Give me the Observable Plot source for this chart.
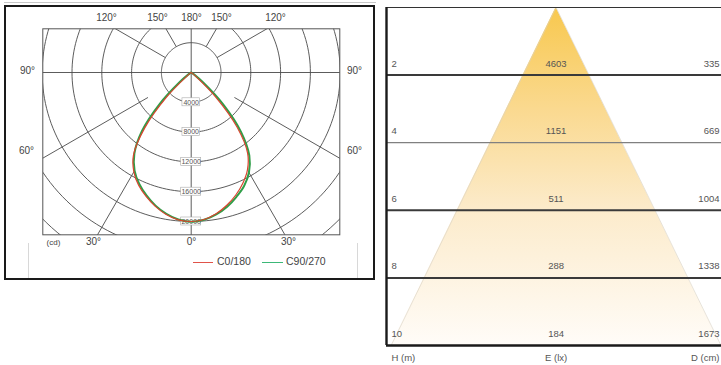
<!DOCTYPE html>
<html>
<head>
<meta charset="utf-8">
<script src="https://cdn.jsdelivr.net/npm/d3@7"></script>
<script src="https://cdn.jsdelivr.net/npm/@observablehq/plot@0.6"></script>
<style>
  body { margin: 0; background: #fff; font-family: "Liberation Sans", Arial, sans-serif; }
  #wrap { position: relative; width: 721px; height: 365px; overflow: hidden; background: #fff; }
  .abs { position: absolute; }
  .legtxt { font-size: 10.5px; color: #444; white-space: nowrap; }
</style>
</head>
<body>
<div id="wrap">
  <div class="abs" style="left:4px;top:2px;width:372px;height:1px;background:#c8c8c8"></div>
  <div class="abs" style="left:4px;top:5px;width:371px;height:275px;border:2px solid #1a1a1a;box-sizing:border-box"></div>
  <div class="abs" style="left:28px;top:243px;width:1px;height:35px;background:#d8d8d8"></div>
  <div class="abs" style="left:357px;top:243px;width:1px;height:35px;background:#d8d8d8"></div>
  <div id="left" class="abs" style="left:0;top:0"></div>
  <div id="right" class="abs" style="left:380px;top:0"></div>
  <div class="abs" style="left:193px;top:262px;width:20px;height:1px;background:#e0534a"></div>
  <div class="abs legtxt" style="left:217px;top:255px">C0/180</div>
  <div class="abs" style="left:262px;top:262px;width:21px;height:1px;background:#3cb878"></div>
  <div class="abs legtxt" style="left:286px;top:255px">C90/270</div>
</div>
<script>
// ---------- Polar luminous intensity data (cd), angle from nadir in degrees ----------
const angles = [-90,-85,-80,-75,-70,-65,-60,-55,-50,-45,-40,-35,-30,-25,-20,-15,-10,-5,0,5,10,15,20,25,30,35,40,45,50,55,60,65,70,75,80,85,90];
const c0_180  = [0,5,10,20,30,40,60,150,800,4800,9700,13500,15400,16700,17700,18600,19350,19850,20000,19800,19250,18450,17500,16400,15100,13200,9600,4700,800,150,60,40,30,20,10,5,0];
const c90_270 = [0,5,10,20,30,60,150,500,2000,6000,10300,13300,15200,16500,17550,18500,19250,19800,20050,19850,19350,18650,17750,16800,15500,13600,10400,6100,2100,500,150,60,30,20,10,5,0];
const seriesNames = ["C0/180", "C90/270"];
const seriesColors = ["#d9452f", "#2f9e48"];

// polar grid
const ringValues = [4000, 8000, 12000, 16000, 20000, 24000, 28000, 32000];
const ringLabelValues = [4000, 8000, 12000, 16000, 20000];
const spokeAngles = [0, 30, 60, 90, 120, 150, 180, -30, -60, -90, -120, -150];
const spokeInner  = [0, 15400, 6700, 0, 4000, 4000, 0, 15400, 6700, 0, 4000, 4000];

// angle labels
const angleLabelText = ["120°","150°","180°","150°","120°","90°","90°","60°","60°","30°","0°","30°"];

// ---------- Beam cone data ----------
const heights = [2, 4, 6, 8, 10];           // H (m)
const illuminance = [4603, 1151, 511, 288, 184]; // E (lx)
const diameters = [335, 669, 1004, 1338, 1673];  // D (cm)
const axisNames = ["H (m)", "E (lx)", "D (cm)"];

// ================= LEFT: polar diagram =================
const W1 = 380, H1 = 285;
const cx = 190.7, cy = 72, k = 29.8 / 4000; // px per cd
const box = {l: 42.3, r: 339.3, t: 28.3, b: 234.3};
const toX = px => (px - cx) / k, toY = py => (py - cy) / k;
const rad = d => d * Math.PI / 180;
const pol = (a, r) => ({x: r * Math.sin(rad(a)), y: r * Math.cos(rad(a))});

const curveRows = [];
[c0_180, c90_270].forEach((vals, s) => {
  angles.forEach((a, i) => curveRows.push({s: seriesNames[s], ...pol(a, vals[i])}));
});
const ringRows = [];
ringValues.forEach(r => { for (let a = 0; a <= 360; a += 2) ringRows.push({r, ...pol(a, r)}); });
const spokeRows = spokeAngles.map((a, i) => {
  const p1 = pol(a, spokeInner[i]), p2 = pol(a, 40000);
  return {x1: p1.x, y1: p1.y, x2: p2.x, y2: p2.y};
});
// label positions (layout)
const labelPx = [[106,17.3],[157,17.3],[191,17.3],[221,17.3],[275,17.3],[27,70.5],[354,70.5],[26,150.5],[354,150.5],[93,241.5],[191,241.5],[288,241.5]];
const angleLabels = angleLabelText.map((t, i) => ({t, x: toX(labelPx[i][0]), y: toY(labelPx[i][1])}));

const lblW = v => (String(v).length === 4 ? 17.5 : 20) / 2 / k;
const lblH = 4 / k;

const left = Plot.plot({
  width: W1, height: H1,
  marginLeft: box.l, marginRight: W1 - box.r, marginTop: box.t, marginBottom: H1 - box.b,
  x: {domain: [toX(box.l), toX(box.r)], range: [box.l, box.r], axis: null},
  y: {domain: [toY(box.t), toY(box.b)], range: [box.t, box.b], axis: null},
  color: {domain: seriesNames, range: seriesColors},
  style: {background: "transparent", fontFamily: "Liberation Sans, Arial, sans-serif", fontSize: "10px", overflow: "visible"},
  marks: [
    Plot.line(ringRows, {x: "x", y: "y", z: "r", stroke: "#4a4a4a", strokeWidth: 0.9}),
    Plot.link(spokeRows, {x1: "x1", y1: "y1", x2: "x2", y2: "y2", stroke: "#4a4a4a", strokeWidth: 0.9}),
    Plot.frame({stroke: "#555", strokeWidth: 1}),
    Plot.rect(ringLabelValues, {x1: d => -lblW(d), x2: d => lblW(d), y1: d => d - lblH, y2: d => d + lblH, fill: "white", stroke: "#aaa", strokeWidth: 0.6}),
    Plot.text(ringLabelValues, {x: 0, y: d => d, text: d => String(d), fontSize: 7, fill: "#555"}),
    Plot.line(curveRows.filter(d => d.s === "C90/270"), {x: "x", y: "y", stroke: "s", strokeWidth: 2, curve: "catmull-rom"}),
    Plot.line(curveRows.filter(d => d.s === "C0/180"), {x: "x", y: "y", stroke: "s", strokeWidth: 1.2, curve: "catmull-rom"}),
    Plot.text(angleLabels, {x: "x", y: "y", text: "t", fill: "#444", fontSize: 10}),
    Plot.text(["(cd)"], {x: toX(53), y: toY(241.5), text: d => d, fill: "#444", fontSize: 8})
  ]
});
// clip the polar grid (rings + spokes) to the frame
{
  const sel = d3.select(left);
  sel.insert("defs", ":first-child").append("clipPath").attr("id", "polarClip")
    .append("rect").attr("x", box.l).attr("y", box.t).attr("width", box.r - box.l).attr("height", box.b - box.t);
  const groups = sel.selectAll(":scope > g").nodes();
  groups.slice(0, 2).forEach(g => g.setAttribute("clip-path", "url(#polarClip)"));
}
document.getElementById("left").appendChild(left);

// ================= RIGHT: beam cone =================
const W2 = 341, H2 = 365;
const xmin = -8.6, xmax = 8.39;
const coneRows = [{H: 0, half: 0}, ...heights.map((h, i) => ({H: h, half: diameters[i] / 200}))];
const tableRows = heights.map((h, i) => ({H: h, E: illuminance[i], D: diameters[i]}));

const right = Plot.plot({
  width: W2, height: H2,
  marginLeft: 6, marginRight: 0, marginTop: 7, marginBottom: 20,
  x: {domain: [xmin, xmax], axis: null},
  y: {domain: [0, 10], range: [7, 345], axis: null},
  style: {background: "transparent", fontFamily: "Liberation Sans, Arial, sans-serif", fontSize: "9.5px", overflow: "visible"},
  marks: [
    Plot.areaX(coneRows, {y: "H", x1: d => -d.half, x2: d => d.half, fill: "url(#coneGrad)"}),
    Plot.line(coneRows, {x: d => -d.half, y: "H", stroke: "#d9d2c4", strokeWidth: 0.6}),
    Plot.line(coneRows, {x: d => d.half, y: "H", stroke: "#d9d2c4", strokeWidth: 0.6}),
    Plot.ruleY([0], {x1: xmin, x2: xmax, stroke: "#333", strokeWidth: 1}),
    Plot.ruleY(heights.filter(h => h !== 4 && h !== 10), {x1: xmin, x2: xmax, stroke: "#3a3a3a", strokeWidth: 2}),
    Plot.ruleY([4], {x1: xmin, x2: xmax, stroke: "#808080", strokeWidth: 1.2}),
    Plot.ruleY([10], {x1: xmin, x2: xmax, stroke: "#1a1a1a", strokeWidth: 2.6}),
    Plot.ruleX([xmin], {y1: 0, y2: 10, stroke: "#1a1a1a", strokeWidth: 2.4}),
    Plot.text(tableRows, {x: xmin, y: "H", dx: 5, dy: -11.5, text: d => String(d.H), textAnchor: "start", fill: "#555"}),
    Plot.text(tableRows, {x: 0, y: "H", dy: -11.5, text: d => String(d.E), fill: "#555"}),
    Plot.text(tableRows, {x: xmax, y: "H", dx: -2, dy: -11.5, text: d => String(d.D), textAnchor: "end", fill: "#555"}),
    Plot.text([axisNames[0]], {x: xmin, y: 10, dx: 5, dy: 12.5, text: d => d, textAnchor: "start", fill: "#555"}),
    Plot.text([axisNames[1]], {x: 0, y: 10, dy: 12.5, text: d => d, fill: "#555"}),
    Plot.text([axisNames[2]], {x: xmax, y: 10, dx: -2, dy: 12.5, text: d => d, textAnchor: "end", fill: "#555"})
  ]
});
const defs = d3.select(right).insert("defs", ":first-child");
const grad = defs.append("linearGradient").attr("id", "coneGrad")
  .attr("x1", 0).attr("y1", 0).attr("x2", 0).attr("y2", 1);
[[0, "#f8c84e"], [0.3, "#fad98f"], [0.6, "#fcebcb"], [1, "#fffcf8"]].forEach(([o, c]) =>
  grad.append("stop").attr("offset", o).attr("stop-color", c));
document.getElementById("right").appendChild(right);
</script>
</body>
</html>
